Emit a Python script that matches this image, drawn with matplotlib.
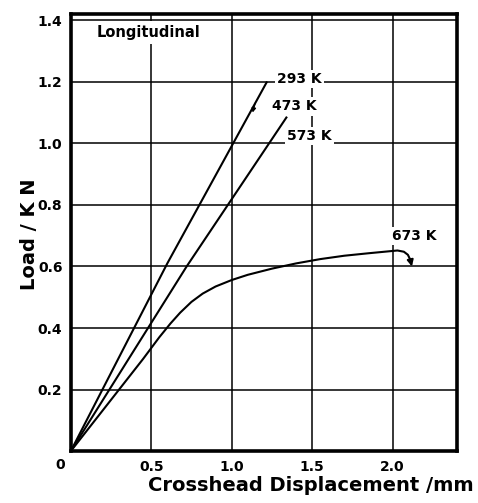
import matplotlib.pyplot as plt

# values (displacement in mm, load in kN)
disp_293 = [0.0, 0.60, 1.217]
load_293 = [0.0, 0.61, 1.198]

# 473K follows the 293K line and stops a little lower
end_473 = (1.13, 1.10)

disp_573 = [0.0, 0.72, 1.34]
load_573 = [0.0, 0.60, 1.084]

disp_673 = [0.0, 0.15, 0.30, 0.45, 0.55, 0.62, 0.68, 0.75, 0.82, 0.90, 1.0,
            1.1, 1.25, 1.4, 1.55, 1.7, 1.85, 1.97, 2.03, 2.07, 2.095, 2.11]
load_673 = [0.0, 0.10, 0.20, 0.30, 0.37, 0.415, 0.45, 0.485, 0.512, 0.535, 0.556,
            0.573, 0.593, 0.610, 0.624, 0.635, 0.643, 0.649, 0.652, 0.648, 0.638, 0.622]
tip_673 = (2.12, 0.600)

temp_labels = ["293 K", "473 K", "573 K", "673 K"]
label_xy = [(1.42, 1.208), (1.39, 1.12), (1.485, 1.023), (2.137, 0.698)]

x_ticks = [0.5, 1.0, 1.5, 2.0]
y_ticks = [0.2, 0.4, 0.6, 0.8, 1.0, 1.2, 1.4]

plt.rcParams['font.family'] = ['DejaVu Sans']
plt.rcParams['font.weight'] = 'bold'

fig = plt.figure(figsize=(4.78, 5.03), dpi=100)
ax = fig.add_axes([0.148, 0.103, 0.808, 0.869])

ax.set_xlim(0, 2.40)
ax.set_ylim(0, 1.42)

# grid
for xv in x_ticks:
    ax.axvline(xv, color='black', lw=1.1, zorder=0)
for yv in y_ticks:
    ax.axhline(yv, color='black', lw=1.1, zorder=0)

ax.plot(disp_293, load_293, color='black', lw=1.5, zorder=2)
ax.plot(disp_573, load_573, color='black', lw=1.5, zorder=2)
ax.plot(disp_673, load_673, color='black', lw=1.5, zorder=2)
ax.annotate('', xy=tip_673, xytext=(disp_673[-1], load_673[-1]),
            arrowprops=dict(arrowstyle='-|>', color='black', lw=1.5,
                            mutation_scale=9, shrinkA=0, shrinkB=0), zorder=3)
# small mark where the 473K curve ends
ax.annotate('', xy=end_473, xytext=(end_473[0] + 0.015, end_473[1] + 0.03),
            arrowprops=dict(arrowstyle='-|>', color='black', lw=1.0,
                            mutation_scale=6, shrinkA=0, shrinkB=0), zorder=3)

for txt, (tx, ty) in zip(temp_labels, label_xy):
    ax.text(tx, ty, txt, fontsize=10, fontweight='bold', ha='center', va='center',
            bbox=dict(facecolor='white', edgecolor='none', pad=1.5), zorder=4)

ax.text(0.16, 1.36, "Longitudinal", fontsize=10.5, fontweight='bold', ha='left', va='center',
        bbox=dict(facecolor='white', edgecolor='none', pad=3), zorder=4)

ax.set_xticks(x_ticks)
ax.set_xticklabels(["0.5", "1.0", "1.5", "2.0"])
ax.set_yticks(y_ticks)
ax.set_yticklabels(["0.2", "0.4", "0.6", "0.8", "1.0", "1.2", "1.4"])
ax.tick_params(length=0, labelsize=10, pad=6)
for lab in ax.get_xticklabels() + ax.get_yticklabels():
    lab.set_fontweight('bold')

ax.text(-0.035, -0.045, "0", fontsize=10, fontweight='bold', ha='right', va='center',
        transform=ax.transData, clip_on=False)

for sp in ax.spines.values():
    sp.set_linewidth(2.6)

fig.text(0.99, 0.015, "Crosshead Displacement /mm", fontsize=14, fontweight='bold',
         ha='right', va='bottom')
fig.text(0.062, 0.535, "Load / K N", fontsize=14, fontweight='bold',
         ha='center', va='center', rotation=90)

fig.savefig("out.png", dpi=100)
